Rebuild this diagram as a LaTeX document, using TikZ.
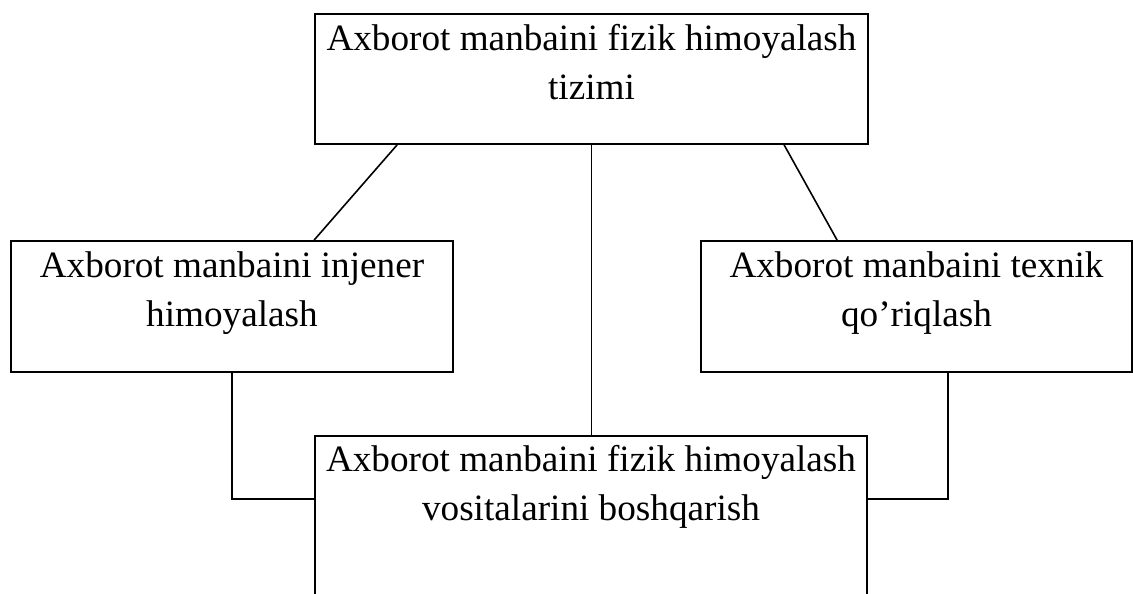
\documentclass[tikz,border=0pt]{standalone}
\usepackage{fontspec}
\setmainfont{Liberation Serif}
\usetikzlibrary{positioning,calc}

\begin{document}
\begin{tikzpicture}[x=1pt,y=-1pt,
  box/.style={draw,line width=1.8pt,inner sep=0pt},
  txt/.style={anchor=north,inner sep=0pt,align=center,
    font=\fontsize{37.2}{49}\selectfont},
  link/.style={line width=1.6pt}
]
  \useasboundingbox (0,0) rectangle (1133,594);
  \clip (0,0) rectangle (1133,594);

  % Top box
  \node[box,minimum width=553pt,minimum height=130pt] (sys) at (591.5,79) {};
  \node[txt] (sysT) at ([yshift=-11pt]sys.north) {Axborot manbaini fizik himoyalash\\tizimi};

  % Left and right boxes
  \node[box,minimum width=442pt,minimum height=131pt] (eng) at (232,306.5) {};
  \node[txt] (engT) at ([yshift=-11pt]eng.north) {Axborot manbaini injener\\himoyalash};
  \node[box,minimum width=431pt,minimum height=131pt] (tech) at (916.5,306.5) {};
  \node[txt] (techT) at ([yshift=-11pt]tech.north) {Axborot manbaini texnik\\qo’riqlash};

  % Bottom box (runs off the page)
  \node[box,minimum width=552pt,minimum height=200pt] (ctrl) at (591,536) {};
  \node[txt] (ctrlT) at ([yshift=-10pt]ctrl.north) {Axborot manbaini fizik himoyalash\\vositalarini boshqarish};

  % Links
  \draw[link] ([xshift=83pt]sys.south west) -- ([xshift=304pt]eng.north west);
  \draw[link] (sys.south) -- (sys.south |- ctrl.north);
  \draw[link] ([xshift=470pt]sys.south west) -- ([xshift=137pt]tech.north west);
  \draw[link] (eng.south) |- ([yshift=-64pt]ctrl.north west);
  \draw[link] ([xshift=248pt]tech.south west) |- ([yshift=-64pt]ctrl.north east);
\end{tikzpicture}
\end{document}
